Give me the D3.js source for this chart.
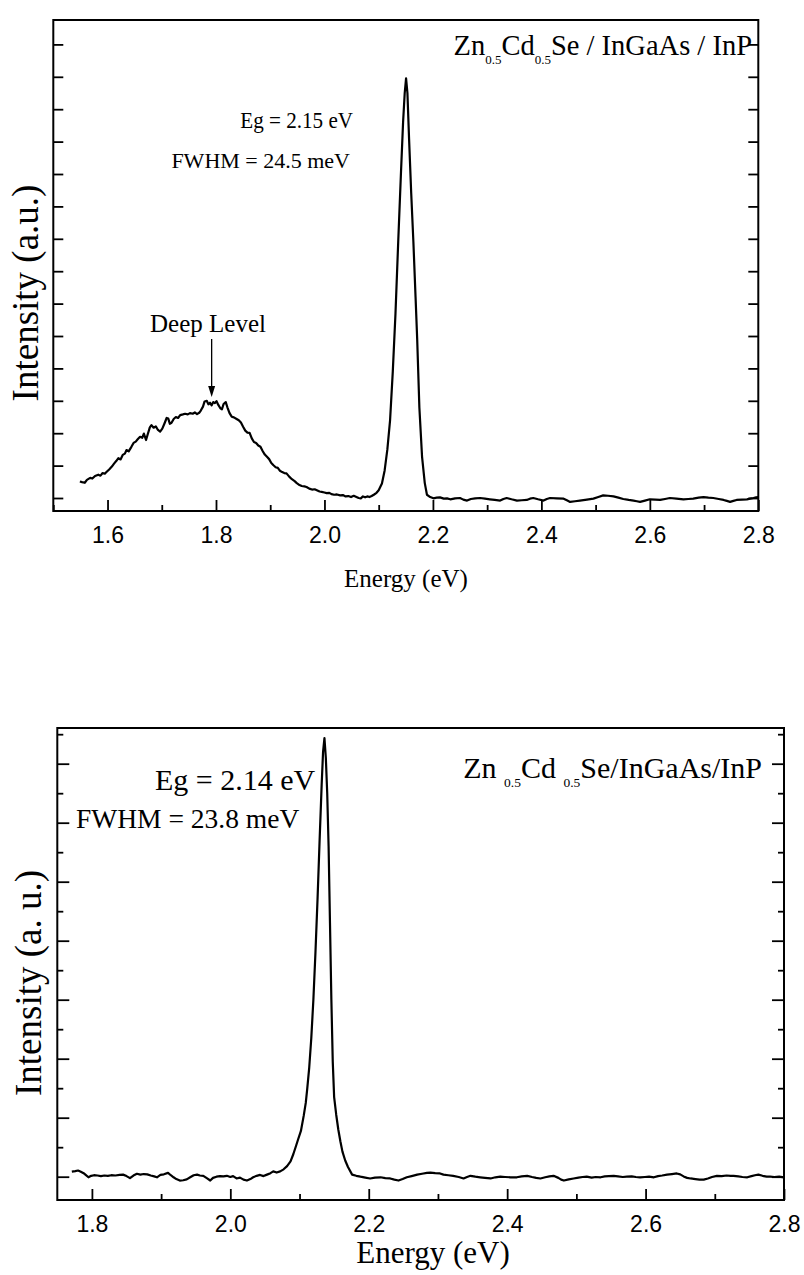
<!DOCTYPE html>
<html>
<head>
<meta charset="utf-8">
<script src="https://cdn.jsdelivr.net/npm/d3@7"></script>
<style>
  body { margin: 0; background: #fff; }
  svg { display: block; }
  .frame { fill: none; stroke: #000; stroke-width: 2; }
  .axis path { stroke: #000; stroke-width: 2; }
  .axis line { stroke: #000; stroke-width: 1.8; }
  .axis text { font-family: "Liberation Sans", Arial, sans-serif; font-size: 23px; fill: #000; }
  .spec { fill: none; stroke: #000; stroke-width: 2.2; stroke-linejoin: round; }
  .lbl { font-family: "Liberation Serif", "Times New Roman", serif; fill: #000; }
</style>
</head>
<body>
<div id="chart"></div>
<script>
// ---- data (energy in eV, intensity in arbitrary units) ----

// upper spectrum: deep level band + band-edge peak
const topSpectrum = [
  [1.549, 0.51], [1.553, 0.49], [1.558, 0.47], [1.562, 0.56], [1.568, 0.62], [1.572, 0.60],
  [1.577, 0.68], [1.583, 0.72], [1.587, 0.69], [1.591, 0.77], [1.595, 0.75], [1.598, 0.80],
  [1.603, 0.88], [1.608, 0.97], [1.612, 1.06], [1.616, 1.14], [1.620, 1.23], [1.624, 1.19],
  [1.628, 1.33], [1.632, 1.37], [1.635, 1.48], [1.639, 1.44], [1.644, 1.58], [1.648, 1.70],
  [1.652, 1.74], [1.656, 1.82], [1.660, 1.89], [1.664, 1.86], [1.667, 1.99], [1.671, 1.79],
  [1.674, 1.96], [1.678, 2.18], [1.681, 2.25], [1.685, 2.17], [1.689, 2.21], [1.693, 2.10],
  [1.697, 2.05], [1.701, 2.14], [1.705, 2.30], [1.709, 2.47], [1.712, 2.45], [1.715, 2.29],
  [1.718, 2.32], [1.722, 2.44], [1.726, 2.50], [1.730, 2.47], [1.734, 2.56], [1.739, 2.58],
  [1.743, 2.60], [1.748, 2.58], [1.752, 2.62], [1.757, 2.60], [1.761, 2.64], [1.765, 2.59],
  [1.769, 2.63], [1.772, 2.70], [1.776, 2.82], [1.779, 2.98], [1.783, 3.00], [1.786, 2.89],
  [1.789, 2.94], [1.792, 2.86], [1.795, 2.96], [1.798, 2.93], [1.801, 2.99], [1.804, 2.88],
  [1.808, 2.77], [1.811, 2.74], [1.814, 2.90], [1.818, 2.96], [1.821, 2.80], [1.825, 2.62],
  [1.829, 2.51], [1.833, 2.49], [1.838, 2.44], [1.842, 2.40], [1.846, 2.33], [1.850, 2.20],
  [1.854, 2.08], [1.858, 2.02], [1.862, 2.01], [1.866, 1.84], [1.870, 1.73], [1.874, 1.70],
  [1.878, 1.62], [1.882, 1.58], [1.886, 1.45], [1.890, 1.34], [1.894, 1.27], [1.898, 1.20],
  [1.902, 1.08], [1.906, 1.01], [1.910, 0.95], [1.914, 0.93], [1.918, 0.84], [1.922, 0.80],
  [1.926, 0.77], [1.930, 0.76], [1.935, 0.66], [1.940, 0.58], [1.945, 0.52], [1.949, 0.46],
  [1.954, 0.40], [1.958, 0.37], [1.963, 0.36], [1.967, 0.34], [1.972, 0.29], [1.977, 0.26],
  [1.982, 0.27], [1.986, 0.24], [1.991, 0.20], [1.995, 0.19], [2.000, 0.17], [2.004, 0.15],
  [2.009, 0.16], [2.013, 0.12], [2.018, 0.10], [2.023, 0.11], [2.029, 0.08], [2.034, 0.09],
  [2.039, 0.05], [2.044, 0.06], [2.049, 0.03], [2.054, 0.07], [2.058, 0.04], [2.063, 0.00],
  [2.067, -0.01], [2.071, 0.05], [2.075, 0.02], [2.079, 0.05], [2.083, 0.03], [2.087, 0.06],
  [2.091, 0.10], [2.096, 0.16], [2.100, 0.24], [2.106, 0.45], [2.111, 0.85], [2.116, 1.50],
  [2.121, 2.40], [2.126, 3.90], [2.131, 5.70], [2.136, 7.90], [2.141, 10.0], [2.145, 11.6],
  [2.148, 12.5], [2.1505, 12.95], [2.153, 12.5], [2.156, 11.1], [2.160, 9.40], [2.164, 7.90],
  [2.168, 6.20], [2.171, 4.90], [2.175, 2.80], [2.180, 1.27], [2.185, 0.46], [2.189, 0.10],
  [2.195, 0.03], [2.201, -0.01], [2.207, 0.01], [2.213, 0.02], [2.220, -0.02], [2.226, -0.01],
  [2.232, -0.04], [2.241, -0.01], [2.250, 0.00], [2.256, -0.05], [2.263, -0.08], [2.270, -0.03],
  [2.278, -0.01], [2.287, 0.00], [2.296, -0.02], [2.305, -0.04], [2.314, -0.06], [2.324, -0.08],
  [2.330, -0.03], [2.336, 0.00], [2.345, -0.04], [2.355, -0.08], [2.364, -0.07], [2.373, -0.06],
  [2.379, -0.02], [2.385, 0.00], [2.394, -0.04], [2.404, -0.08], [2.410, -0.03], [2.416, 0.00],
  [2.428, -0.01], [2.441, -0.02], [2.447, -0.07], [2.453, -0.12], [2.462, -0.10], [2.471, -0.08],
  [2.484, -0.05], [2.496, -0.02], [2.505, 0.03], [2.514, 0.08], [2.523, 0.07], [2.533, 0.05],
  [2.542, 0.01], [2.551, -0.03], [2.561, -0.06], [2.570, -0.08], [2.576, -0.10], [2.582, -0.12],
  [2.591, -0.08], [2.600, -0.04], [2.610, -0.05], [2.619, -0.06], [2.628, -0.03], [2.637, 0.00],
  [2.649, -0.02], [2.662, -0.04], [2.671, -0.03], [2.680, -0.02], [2.690, 0.01], [2.699, 0.03],
  [2.708, 0.01], [2.717, 0.00], [2.727, -0.03], [2.736, -0.06], [2.742, -0.09], [2.748, -0.12],
  [2.754, -0.09], [2.760, -0.06], [2.770, -0.05], [2.779, -0.04], [2.785, -0.02], [2.791, 0.00],
  [2.796, 0.02], [2.800, 0.03]
];

// lower spectrum: single band-edge peak
const bottomSpectrum = [
  [1.771, 0.17], [1.776, 0.19], [1.780, 0.21], [1.784, 0.17], [1.788, 0.12], [1.791, 0.06],
  [1.795, -0.02], [1.799, 0.03], [1.803, 0.05], [1.808, 0.04], [1.813, 0.02], [1.818, 0.04],
  [1.823, 0.03], [1.828, 0.05], [1.834, 0.04], [1.840, 0.06], [1.845, 0.07], [1.850, 0.02],
  [1.855, -0.05], [1.860, 0.04], [1.865, 0.10], [1.870, 0.07], [1.875, 0.09], [1.880, 0.08],
  [1.885, 0.04], [1.890, 0.01], [1.894, -0.02], [1.899, 0.06], [1.904, 0.08], [1.910, 0.13],
  [1.914, 0.05], [1.918, -0.02], [1.922, -0.08], [1.927, -0.13], [1.932, -0.12], [1.937, -0.09],
  [1.942, -0.02], [1.947, 0.05], [1.952, 0.07], [1.956, 0.04], [1.961, 0.03], [1.966, -0.05],
  [1.971, -0.13], [1.975, -0.04], [1.980, 0.00], [1.985, 0.02], [1.990, 0.01], [1.995, 0.03],
  [2.000, -0.01], [2.004, 0.02], [2.009, -0.06], [2.014, -0.03], [2.019, -0.10], [2.024, -0.13],
  [2.029, -0.08], [2.033, -0.02], [2.038, 0.03], [2.043, 0.06], [2.048, 0.02], [2.053, 0.07],
  [2.058, 0.12], [2.062, 0.18], [2.067, 0.14], [2.072, 0.18], [2.077, 0.25], [2.082, 0.36],
  [2.087, 0.52], [2.091, 0.76], [2.095, 1.05], [2.098, 1.27], [2.102, 1.55], [2.106, 2.06],
  [2.109, 2.50], [2.111, 2.95], [2.114, 3.70], [2.117, 4.70], [2.120, 6.00], [2.123, 7.60],
  [2.126, 9.40], [2.129, 11.4], [2.132, 13.3], [2.134, 14.4], [2.136, 14.87], [2.138, 14.2],
  [2.140, 13.0], [2.142, 11.2], [2.144, 8.60], [2.146, 6.00], [2.148, 3.90], [2.150, 2.70],
  [2.153, 2.10], [2.156, 1.60], [2.159, 1.20], [2.162, 0.85], [2.166, 0.55], [2.170, 0.33],
  [2.176, 0.07], [2.182, 0.03], [2.188, 0.00], [2.195, -0.03], [2.202, -0.06], [2.209, -0.03],
  [2.217, -0.02], [2.224, -0.05], [2.231, -0.06], [2.237, -0.10], [2.243, -0.13], [2.249, -0.08],
  [2.255, -0.02], [2.262, 0.02], [2.270, 0.07], [2.277, 0.10], [2.284, 0.13], [2.289, 0.14],
  [2.296, 0.12], [2.303, 0.11], [2.308, 0.07], [2.315, 0.05], [2.322, 0.03], [2.330, -0.01],
  [2.337, -0.06], [2.342, -0.01], [2.347, 0.03], [2.354, 0.00], [2.361, -0.02], [2.368, -0.04],
  [2.376, -0.06], [2.383, -0.02], [2.390, 0.00], [2.397, -0.01], [2.405, -0.02], [2.414, -0.02],
  [2.421, 0.01], [2.429, 0.03], [2.436, -0.01], [2.442, -0.04], [2.448, -0.06], [2.455, -0.02],
  [2.461, 0.01], [2.467, 0.03], [2.474, -0.04], [2.478, -0.10], [2.482, -0.13], [2.489, -0.09],
  [2.496, -0.06], [2.503, -0.03], [2.509, -0.01], [2.515, 0.00], [2.522, -0.03], [2.528, -0.01],
  [2.535, -0.02], [2.541, 0.01], [2.547, 0.02], [2.554, 0.03], [2.560, 0.01], [2.567, -0.01],
  [2.573, 0.00], [2.580, 0.01], [2.586, -0.01], [2.592, -0.02], [2.599, -0.01], [2.605, 0.00],
  [2.612, -0.02], [2.618, 0.02], [2.624, 0.04], [2.631, 0.07], [2.638, 0.09], [2.645, 0.11],
  [2.650, 0.08], [2.655, 0.01], [2.660, -0.04], [2.665, -0.06], [2.672, -0.08], [2.678, -0.10],
  [2.684, -0.10], [2.690, -0.06], [2.696, -0.01], [2.703, 0.03], [2.710, 0.02], [2.717, 0.04],
  [2.723, 0.03], [2.727, 0.03], [2.734, 0.01], [2.740, -0.01], [2.747, -0.02], [2.753, 0.02],
  [2.758, 0.05], [2.763, 0.07], [2.769, 0.03], [2.775, 0.00], [2.780, 0.00], [2.786, -0.01],
  [2.793, 0.00], [2.800, -0.02]
];

const topXMajor = [1.6, 1.8, 2.0, 2.2, 2.4, 2.6, 2.8];
const topXMinor = [1.5, 1.7, 1.9, 2.1, 2.3, 2.5, 2.7];
const bottomXMajor = [1.8, 2.0, 2.2, 2.4, 2.6, 2.8];
const bottomXMinor = [1.9, 2.1, 2.3, 2.5, 2.7];
const topYTicks = d3.range(0, 15);
const bottomYMajor = [0, 2, 4, 6, 8, 10, 12, 14];
const bottomYMinor = [1, 3, 5, 7, 9, 11, 13, 15];

const xLabel = "Energy (eV)";

// ---- drawing ----

const svg = d3.select("#chart").append("svg")
    .attr("width", 804)
    .attr("height", 1275);

function drawPanel(p) {
    let x = d3.scaleLinear().domain(p.xDomain).range([p.left, p.right]);
    let y = d3.scaleLinear().domain(p.yDomain).range([p.bottom, p.top]);
    let g = svg.append("g");

    // bottom axis (ticks inside), major labelled
    g.append("g").attr("class", "axis")
        .attr("transform", "translate(0," + p.bottom + ")")
        .call(d3.axisBottom(x).tickValues(p.xMajor).tickSize(-11).tickSizeOuter(0)
            .tickPadding(16).tickFormat(d3.format(".1f")));
    g.append("g").attr("class", "axis")
        .attr("transform", "translate(0," + p.bottom + ")")
        .call(d3.axisBottom(x).tickValues(p.xMinor).tickSize(-6).tickSizeOuter(0).tickFormat(""));

    // left + right ticks
    [[p.left, 1], [p.right, -1]].forEach(function (side) {
        let ax = side[1] > 0 ? d3.axisLeft(y) : d3.axisRight(y);
        g.append("g").attr("class", "axis")
            .attr("transform", "translate(" + side[0] + ",0)")
            .call(ax.tickValues(p.yMajor).tickSize(-p.yMajorLen).tickSizeOuter(0).tickFormat(""));
        if (p.yMinor.length) {
            let ax2 = side[1] > 0 ? d3.axisLeft(y) : d3.axisRight(y);
            g.append("g").attr("class", "axis")
                .attr("transform", "translate(" + side[0] + ",0)")
                .call(ax2.tickValues(p.yMinor).tickSize(-6).tickSizeOuter(0).tickFormat(""));
        }
    });
    g.selectAll(".axis .domain").remove();

    g.append("rect").attr("class", "frame")
        .attr("x", p.left).attr("y", p.top)
        .attr("width", p.right - p.left).attr("height", p.bottom - p.top);

    let line = d3.line().x(d => x(d[0])).y(d => y(d[1]));
    g.append("path").datum(p.data).attr("class", "spec").attr("d", line);

    // axis titles
    g.append("text").attr("class", "lbl")
        .attr("x", p.xTitleX).attr("y", p.xTitleY)
        .attr("text-anchor", "middle").style("font-size", p.xTitleSize + "px")
        .text(xLabel);
    g.append("text").attr("class", "lbl")
        .attr("transform", "translate(" + p.yTitleX + "," + p.yTitleY + ") rotate(-90)")
        .attr("text-anchor", "middle").style("font-size", p.yTitleSize + "px")
        .text(p.yTitle);

    return {g: g, x: x, y: y};
}

// sample title with subscripts
function sampleTitle(g, xPos, yPos, size, subSize, gap) {
    let t = g.append("text").attr("class", "lbl")
        .attr("x", xPos).attr("y", yPos).attr("text-anchor", "end")
        .style("font-size", size + "px");
    t.append("tspan").text("Zn" + gap);
    t.append("tspan").attr("dy", 9).style("font-size", subSize + "px").text("0.5");
    t.append("tspan").attr("dy", -9).text("Cd" + gap);
    t.append("tspan").attr("dy", 9).style("font-size", subSize + "px").text("0.5");
    t.append("tspan").attr("dy", -9).text(gap ? "Se/InGaAs/InP" : "Se / InGaAs / InP");
}

// upper panel
let up = drawPanel({
    data: topSpectrum,
    xDomain: [1.5, 2.8], left: 53.3, right: 758.3,
    yDomain: [-0.401, 14.753], top: 20, bottom: 511,
    xMajor: topXMajor, xMinor: topXMinor,
    yMajor: topYTicks, yMinor: [], yMajorLen: 10,
    xTitleX: 406, xTitleY: 587, xTitleSize: 25,
    yTitleX: 38, yTitleY: 293, yTitleSize: 37,
    yTitle: "Intensity (a.u.)"
});

sampleTitle(up.g, 752, 55, 28.5, 13, "");
up.g.append("text").attr("class", "lbl")
    .attr("transform", "translate(353,128) scale(0.88,1)")
    .attr("text-anchor", "end")
    .style("font-size", "24px").text("Eg = 2.15 eV");
up.g.append("text").attr("class", "lbl")
    .attr("x", 350).attr("y", 168).attr("text-anchor", "end")
    .style("font-size", "22px").text("FWHM = 24.5 meV");
up.g.append("text").attr("class", "lbl")
    .attr("x", 208).attr("y", 332).attr("text-anchor", "middle")
    .style("font-size", "25px").text("Deep Level");

// arrow to deep level maximum
up.g.append("line")
    .attr("x1", up.x(1.792)).attr("x2", up.x(1.792))
    .attr("y1", 339).attr("y2", 388)
    .attr("stroke", "#000").attr("stroke-width", 1.3);
up.g.append("path")
    .attr("d", "M" + (up.x(1.792) - 3.5) + ",386 L" + (up.x(1.792) + 3.5) + ",386 L" + up.x(1.792) + ",397 Z")
    .attr("fill", "#000");

// lower panel
let lo = drawPanel({
    data: bottomSpectrum,
    xDomain: [1.75, 2.8], left: 57.3, right: 784,
    yDomain: [-0.79, 15.21], top: 728, bottom: 1200,
    xMajor: bottomXMajor, xMinor: bottomXMinor,
    yMajor: bottomYMajor, yMinor: bottomYMinor, yMajorLen: 12,
    xTitleX: 433, xTitleY: 1263, xTitleSize: 31,
    yTitleX: 41, yTitleY: 983, yTitleSize: 37,
    yTitle: "Intensity (a. u.)"
});

sampleTitle(lo.g, 762, 778, 30, 13.5, " ");
lo.g.append("text").attr("class", "lbl")
    .attr("x", 155).attr("y", 790)
    .style("font-size", "30px").text("Eg = 2.14 eV");
lo.g.append("text").attr("class", "lbl")
    .attr("x", 76).attr("y", 828)
    .style("font-size", "27.5px").text("FWHM = 23.8 meV");
</script>
</body>
</html>
